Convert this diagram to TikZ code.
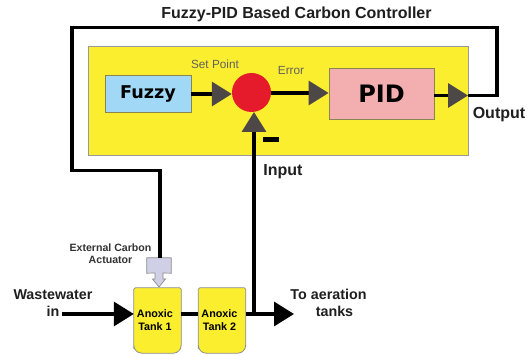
\documentclass[tikz,border=0pt]{standalone}
\usepackage{fontspec}
\setmainfont{Liberation Sans}
\newfontfamily\heavyfont{DejaVu Sans}
\usetikzlibrary{arrows.meta}
\definecolor{panelyellow}{HTML}{FBEE2F}
\definecolor{fuzzyblue}{HTML}{A0D8F5}
\definecolor{pidpink}{HTML}{F3AEAF}
\definecolor{sumred}{HTML}{E51B2C}
\definecolor{actlav}{HTML}{CFCFE6}
\definecolor{tipgrey}{HTML}{4D4845}
\definecolor{edgeolive}{HTML}{8A8550}
\tikzset{
 x=1pt,y=-1pt,
 wire/.style={line width=3.4pt,draw=black},
 greytip/.style={wire,-{Triangle[length=20pt,width=24pt,color=tipgrey,fill=tipgrey]}},
 blacktip/.style={wire,-{Triangle[length=20pt,width=24pt,color=black,fill=black]}},
 box/.style={draw=edgeolive,line width=0.8pt,inner sep=0pt,minimum height=#1},
 lab/.style={font=\fontsize{16}{18}\selectfont\bfseries,align=center,inner sep=0pt,text=black!88},
 side/.style={font=\fontsize{14.3}{17.5}\selectfont\bfseries,align=center,inner sep=0pt,text=black!88},
 small/.style={font=\fontsize{10.6}{12}\selectfont\bfseries,align=center,inner sep=0pt,text=black!80},
 thin label/.style={font=\fontsize{11.8}{13}\selectfont,inner sep=0pt,text=black!62},
 tankbox/.style={minimum width=47pt,minimum height=65pt,inner sep=0pt},
 tanktext/.style={inner sep=0pt,font=\fontsize{10.8}{12.8}\selectfont\bfseries,align=center},
 tankline/.style={draw=black!45,line width=0.8pt,fill=panelyellow},
}
\begin{document}
\begin{tikzpicture}
\useasboundingbox (0,0) rectangle (531,355);
\fill[white] (0,0) rectangle (531,355);
% panel
\node[draw=black!40,line width=0.8pt,fill=panelyellow,minimum width=380pt,minimum height=109pt,inner sep=0pt] (panel) at (278,100.5) {};
% blocks
\node[box=37pt,fill=fuzzyblue,minimum width=86pt,font=\heavyfont\fontsize{17.6}{19}\selectfont\bfseries] (fuzzy) at (148,93.5) {Fuzzy};
\node[circle,fill=sumred,minimum size=39pt,inner sep=0pt] (sum) at (251.5,92.5) {};
\node[box=51pt,fill=pidpink,minimum width=105pt,font=\heavyfont\fontsize{24}{26}\selectfont\bfseries] (pid) at (381.5,93.5) {PID};
% tanks
\node[tankbox] (tankA) at (157.5,320.5) {};
\node[tankbox] (tankB) at (222,320.5) {};
\foreach \t in {tankA,tankB}{
 \draw[tankline] (\t.south west) [rounded corners=8pt] -- (\t.south east) [rounded corners=1.5pt] -- (\t.north east) -- (\t.north west) [rounded corners=8pt] -- (\t.south west) -- cycle;
}
% actuator
\node[minimum width=24pt,minimum height=15pt,inner sep=0pt] (act) at (159,265.5) {};
\coordinate (actTip) at (159,287);
\draw[draw=black!45,line width=0.7pt,fill=actlav] (act.north west) -- (act.north east) -- (act.south east) -- (163,273) -- (163,279) -- (165.5,279) -- (actTip) -- (152.5,279) -- (155,279) -- (155,273) -- (act.south west) -- cycle;
% coordinates
\coordinate (outR) at (497,95.5);
\coordinate (topR) at (497,27.5);
\coordinate (topL) at (72,27.5);
\coordinate (midL) at (72,170.5);
\coordinate (midR) at (160,170.5);
\coordinate (wwIn) at (62,314);
\coordinate (junct) at (254,314);
\coordinate (aer) at (294,314);
\coordinate (pidTip) at (468,95.5);
\coordinate (sumIn) at (254,112);
% wires
\draw[greytip] (fuzzy.east |- 0,94) -- (sum.west |- 0,94);
\draw[greytip] (sum.east |- 0,93) -- (pid.west |- 0,93);
\draw[greytip] (pid.east |- pidTip) -- (pidTip);
\draw[wire,line join=miter] (pidTip) -- (outR) -- (topR) -- (topL) -- (midL) -- (midR) -- (midR |- act.north);
\draw[greytip] (junct) -- (sumIn);
\draw[blacktip] (wwIn) -- (tankA.west |- wwIn);
\draw[wire] (tankA.east |- wwIn) -- (tankB.west |- wwIn);
\draw[blacktip] (tankB.east |- wwIn) -- (aer);
% tank labels
\node[tanktext] (textA) at (155,320) {Anoxic\\Tank 1};
\node[tanktext] (textB) at (219.5,320) {Anoxic\\Tank 2};
% minus
\node[fill=black,minimum width=16pt,minimum height=5pt,inner sep=0pt] (minus) at (271,140) {};
% labels
\node[lab,anchor=base] (title) at (296.5,19) {Fuzzy-PID Based Carbon Controller};
\node[thin label,anchor=base] (setpt) at (215,69) {Set Point};
\node[thin label,anchor=base] (err) at (291,75) {Error};
\node[lab,anchor=base] (output) at (499,119) {Output};
\node[lab,anchor=base] (input) at (283,176) {Input};
\node[small] (actlab) at (110.5,253.5) {External Carbon\\Actuator};
\node[side,anchor=base] (ww) at (53,317) {Wastewater\\in};
\node[side,anchor=base] (toaer) at (328.5,317) {To aeration\\\hspace*{12pt}tanks};
\end{tikzpicture}
\end{document}
